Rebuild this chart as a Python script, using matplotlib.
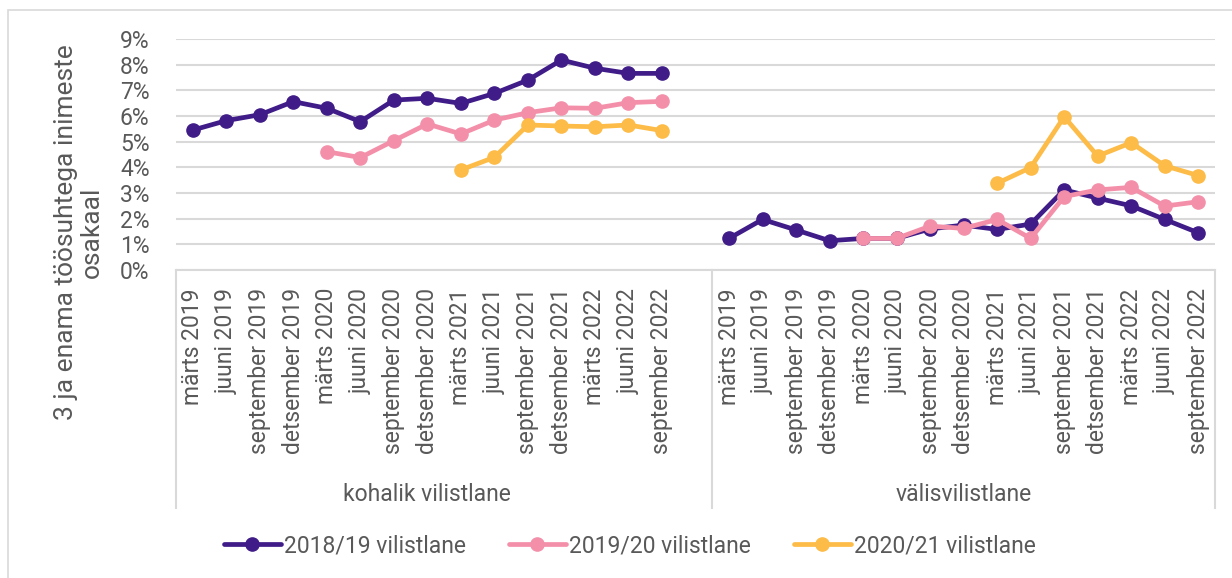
import numpy as np
import matplotlib
matplotlib.use('Agg')
import matplotlib.pyplot as plt
from matplotlib.patches import Rectangle

plt.rcParams['font.family'] = ['Roboto', 'DejaVu Sans']

months = ['märts 2019', 'juuni 2019', 'september 2019', 'detsember 2019',
          'märts 2020', 'juuni 2020', 'september 2020', 'detsember 2020',
          'märts 2021', 'juuni 2021', 'september 2021', 'detsember 2021',
          'märts 2022', 'juuni 2022', 'september 2022']
groups = ['kohalik vilistlane', 'välisvilistlane']
series_names = ['2018/19 vilistlane', '2019/20 vilistlane', '2020/21 vilistlane']

# values in %, None = no data for that quarter
local_1819 = [5.45, 5.82, 6.05, 6.56, 6.30, 5.78, 6.62, 6.69, 6.49, 6.88, 7.40, 8.18, 7.86, 7.66, 7.66]
local_1920 = [None, None, None, None, 4.61, 4.38, 5.04, 5.69, 5.30, 5.84, 6.13, 6.32, 6.30, 6.52, 6.57]
local_2021 = [None] * 8 + [3.90, 4.39, 5.65, 5.61, 5.58, 5.65, 5.43]
abroad_1819 = [1.23, 1.97, 1.56, 1.14, 1.23, 1.23, 1.60, 1.75, 1.58, 1.79, 3.12, 2.80, 2.50, 1.97, 1.45]
abroad_1920 = [None, None, None, None, 1.23, 1.23, 1.71, 1.62, 1.97, 1.23, 2.86, 3.12, 3.22, 2.49, 2.66]
abroad_2021 = [None] * 8 + [3.38, 3.99, 5.97, 4.44, 4.96, 4.06, 3.68]

colors = ['#3f1c87', '#f48fa9', '#fdbb47']
text_col = '#595959'
grid_col = '#d9d9d9'
fs = 16.5

fig = plt.figure(figsize=(12.32, 5.78), dpi=100)
ax = fig.add_axes([176 / 1232, 1 - 270 / 578, 1039 / 1232, 231 / 578])

n = len(months)
x_left = np.arange(n)
x_right = np.arange(n) + n + 1

local = [local_1819, local_1920, local_2021]
abroad = [abroad_1819, abroad_1920, abroad_2021]
for i in range(3):
    for xs, vals in [(x_left, local[i]), (x_right, abroad[i])]:
        v = np.array([np.nan if a is None else a for a in vals], dtype=float)
        ax.plot(xs, v, color=colors[i], lw=3.4, marker='o', ms=9.5,
                solid_capstyle='round', zorder=3,
                label=series_names[i] if xs is x_left else None)

ax.set_xlim(-0.5, 2 * n + 0.5)
ax.set_ylim(0, 9)
ax.set_yticks(range(10))
ax.set_yticklabels(['%d%%' % t for t in range(10)])
ax.set_xticks(np.concatenate([x_left, x_right]))
ax.set_xticklabels(months + months, rotation=90, va='top', ha='center')
ax.tick_params(axis='y', length=0, pad=19, labelsize=fs, labelcolor=text_col)
ax.tick_params(axis='x', length=0, pad=13, labelsize=fs, labelcolor=text_col)
ax.grid(axis='y', color=grid_col, lw=1.5)
ax.set_axisbelow(True)
for s in ['top', 'right', 'left']:
    ax.spines[s].set_visible(False)
ax.spines['bottom'].set_color(grid_col)
ax.spines['bottom'].set_linewidth(1.5)

# category group separators and group names
trans = ax.get_xaxis_transform()
for xb in [-0.5, n + 0.5, 2 * n + 0.5]:
    ax.plot([xb, xb], [0, -1.03], transform=trans, color=grid_col, lw=1.5, clip_on=False)
ax.text((n - 1 + 0.5) / 2 - 0.25, -0.97, groups[0], transform=trans, ha='center', va='center',
        fontsize=fs, color=text_col)
ax.text(n + 0.5 + n / 2, -0.97, groups[1], transform=trans, ha='center', va='center',
        fontsize=fs, color=text_col)

fig.text(79 / 1232, 1 - 232 / 578, '3 ja enama töösuhtega inimeste\nosakaal', rotation=90,
         ha='center', va='center', multialignment='center', fontsize=19, color=text_col,
         linespacing=1.1)

leg = fig.legend(loc='center', bbox_to_anchor=(630 / 1232, 1 - 546 / 578), ncol=3, frameon=False,
                 fontsize=fs, handlelength=2.5, handletextpad=0.15, columnspacing=1.85)
for t in leg.get_texts():
    t.set_color(text_col)

fig.patches.append(Rectangle((8 / 1232, -0.1), 1.2, 1.1 - 10 / 578, transform=fig.transFigure,
                             fill=False, edgecolor=grid_col, lw=1.2))

fig.savefig('out.png', dpi=100)
